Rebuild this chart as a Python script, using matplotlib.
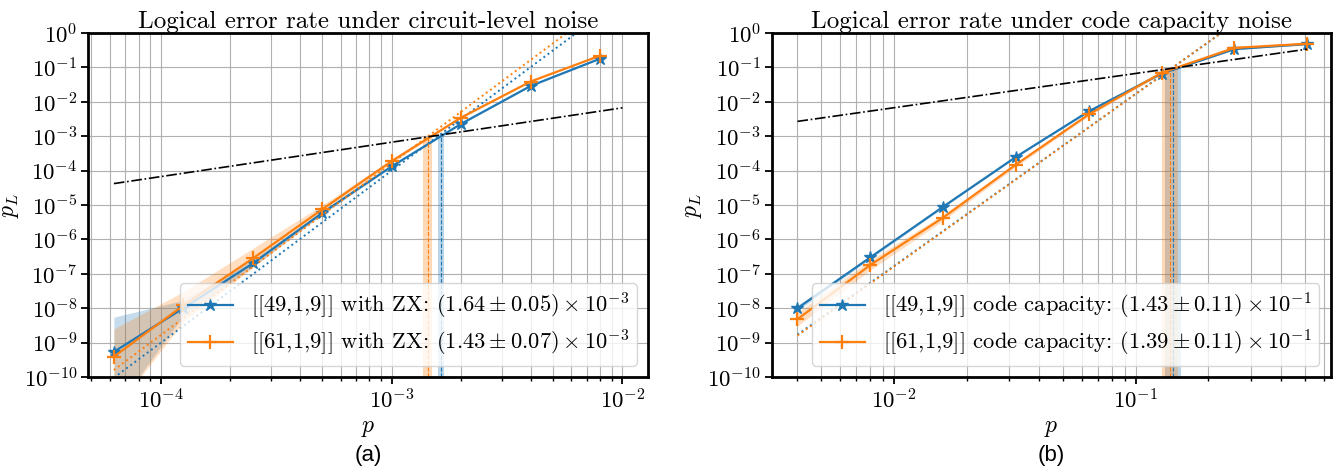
import matplotlib
matplotlib.use("Agg")
import matplotlib.pyplot as plt
from matplotlib.ticker import NullLocator, LogLocator

plt.rcParams["font.family"] = "serif"
plt.rcParams["font.serif"] = ["cmr10"]
plt.rcParams["mathtext.fontset"] = "cm"
plt.rcParams["axes.formatter.use_mathtext"] = True

# ---- circuit-level noise (a) ----
p_circ = [6.25e-5, 1.25e-4, 2.5e-4, 5e-4, 1e-3, 2e-3, 4e-3, 8e-3]
pl_49_circ = [5.4e-10, 1.0e-8, 2.0e-7, 5.9e-6, 1.33e-4, 2.3e-3, 2.9e-2, 1.8e-1]
lo_49_circ = [1e-11, 6.0e-9, 1.6e-7, 5.3e-6, 1.27e-4, 2.2e-3, 2.8e-2, 1.75e-1]
hi_49_circ = [5.5e-9, 1.7e-8, 2.6e-7, 6.6e-6, 1.40e-4, 2.4e-3, 3.0e-2, 1.85e-1]
pl_61_circ = [3.9e-10, 1.2e-8, 2.8e-7, 7.5e-6, 1.9e-4, 3.5e-3, 3.9e-2, 2.2e-1]
lo_61_circ = [1e-11, 4.0e-9, 1.5e-7, 5.5e-6, 1.7e-4, 3.3e-3, 3.8e-2, 2.15e-1]
hi_61_circ = [2.5e-9, 3.0e-8, 5.5e-7, 1.0e-5, 2.1e-4, 3.7e-3, 4.0e-2, 2.25e-1]
fit_p_circ = [6.25e-5, 1e-2]
fit_49_circ = [9.5e-11, 10.0]
fit_61_circ = [1.6e-10, 16.0]
ref_p_circ = [6.25e-5, 1e-2]
ref_pl_circ = [4.2e-5, 6.7e-3]
th_circ = [1.64e-3, 1.43e-3]
th_err_circ = [0.05e-3, 0.07e-3]
th_top_circ = [1.09e-3, 0.95e-3]
labels_circ = [r"[[49,1,9]] with ZX: $(1.64\pm0.05)\times10^{-3}$",
               r"[[61,1,9]] with ZX: $(1.43\pm0.07)\times10^{-3}$"]

# ---- code capacity noise (b) ----
p_cap = [0.004, 0.008, 0.016, 0.032, 0.064, 0.128, 0.256, 0.512]
pl_49_cap = [1.0e-8, 3.0e-7, 8.9e-6, 2.5e-4, 5.3e-3, 6.6e-2, 3.4e-1, 4.8e-1]
lo_49_cap = [8.5e-9, 2.7e-7, 8.3e-6, 2.4e-4, 5.1e-3, 6.4e-2, 3.3e-1, 4.6e-1]
hi_49_cap = [1.2e-8, 3.3e-7, 9.5e-6, 2.6e-4, 5.5e-3, 6.8e-2, 3.5e-1, 5.0e-1]
pl_61_cap = [4.8e-9, 1.8e-7, 4.3e-6, 1.5e-4, 4.3e-3, 7.0e-2, 3.7e-1, 4.9e-1]
lo_61_cap = [3.0e-9, 1.3e-7, 3.5e-6, 1.3e-4, 3.9e-3, 6.5e-2, 3.4e-1, 4.5e-1]
hi_61_cap = [7.5e-9, 2.5e-7, 5.3e-6, 1.7e-4, 4.7e-3, 7.5e-2, 4.0e-1, 5.4e-1]
fit_p_cap = [0.004, 0.512]
fit_49_cap = [1.7e-9, 60.0]
fit_61_cap = [1.6e-9, 62.0]
ref_p_cap = [0.004, 0.512]
ref_pl_cap = [2.7e-3, 0.34]
th_cap = [0.143, 0.139]
th_err_cap = [0.011, 0.011]
th_top_cap = [0.095, 0.093]
labels_cap = [r"[[49,1,9]] code capacity: $(1.43\pm0.11)\times10^{-1}$",
              r"[[61,1,9]] code capacity: $(1.39\pm0.11)\times10^{-1}$"]

colors = ["#1f77b4", "#ff7f0e"]
markers = ["*", "+"]


def draw_panel(ax, p, pls, los, his, fit_p, fits, ref_p, ref_pl, th, th_err, th_top, labels, title, xlim):
    for i in range(2):
        c = colors[i]
        ax.fill_between(p, los[i], his[i], color=c, alpha=0.25, lw=0)
        ax.plot(p, pls[i], color=c, lw=1.6, marker=markers[i],
                ms=9 if i == 0 else 10, mew=1 if i == 0 else 1.6, label=labels[i])
        ax.plot(fit_p, fits[i], color=c, ls=":", lw=1.4)
        ax.fill_betweenx([1e-10, th_top[i]], th[i] - th_err[i], th[i] + th_err[i],
                         color=c, alpha=0.3, lw=0)
        ax.vlines(th[i], 1e-10, th_top[i], color=c, ls="--", lw=0.8)
    ax.plot(ref_p, ref_pl, "k-.", lw=1.2)
    ax.set_xscale("log")
    ax.set_yscale("log")
    ax.set_xlim(xlim)
    ax.set_ylim(1e-10, 1)
    ax.set_yticks([10.0 ** k for k in range(-10, 1)])
    ax.yaxis.set_minor_locator(NullLocator())
    ax.xaxis.set_minor_locator(LogLocator(subs=range(2, 10)))
    ax.grid(True, which="both", color="#b0b0b0", lw=0.8)
    ax.set_axisbelow(True)
    for s in ax.spines.values():
        s.set_linewidth(2)
    ax.tick_params(labelsize=16.5, width=1.3, length=5, pad=3)
    ax.tick_params(which="minor", width=1, length=3)
    ax.set_xlabel(r"$p$", fontsize=17, labelpad=3)
    ax.set_ylabel(r"$p_L$", fontsize=17, labelpad=2)
    ax.set_title(title, fontsize=18, pad=3)
    ax.legend(loc="lower right", fontsize=16.2, handlelength=2.0,
              labelspacing=0.3, borderpad=0.35)


fig = plt.figure(figsize=(13.38, 4.74), dpi=100)
ax1 = fig.add_axes([0.0661, 0.2046, 0.4182, 0.7257])
ax2 = fig.add_axes([0.577, 0.2046, 0.4175, 0.7257])

draw_panel(ax1, p_circ, [pl_49_circ, pl_61_circ], [lo_49_circ, lo_61_circ],
           [hi_49_circ, hi_61_circ], fit_p_circ, [fit_49_circ, fit_61_circ],
           ref_p_circ, ref_pl_circ, th_circ, th_err_circ, th_top_circ, labels_circ,
           "Logical error rate under circuit-level noise", (4.85e-5, 1.29e-2))
draw_panel(ax2, p_cap, [pl_49_cap, pl_61_cap], [lo_49_cap, lo_61_cap],
           [hi_49_cap, hi_61_cap], fit_p_cap, [fit_49_cap, fit_61_cap],
           ref_p_cap, ref_pl_cap, th_cap, th_err_cap, th_top_cap, labels_cap,
           "Logical error rate under code capacity noise", (3.14e-3, 0.64))

fig.text(0.275, 0.04, "(a)", fontsize=16, family="Liberation Sans", ha="center", va="center")
fig.text(0.786, 0.04, "(b)", fontsize=16, family="Liberation Sans", ha="center", va="center")

fig.savefig("out.png", dpi=100)
